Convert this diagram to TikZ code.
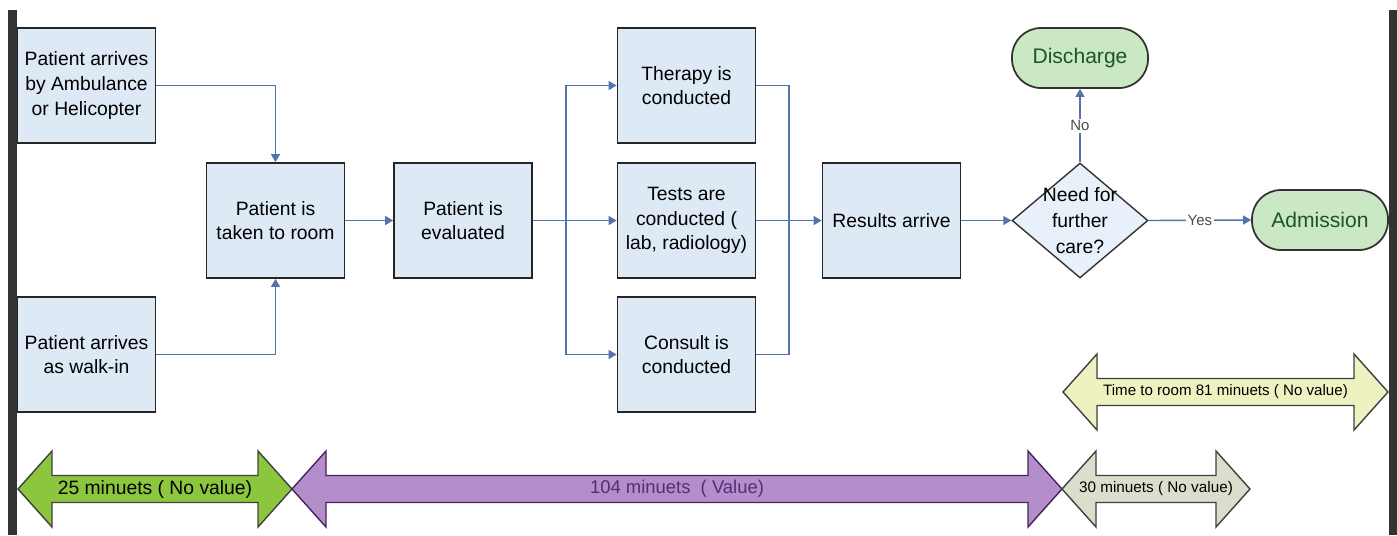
\documentclass[tikz,border=0pt]{standalone}
\usepackage{fontspec}
\setmainfont{Liberation Sans}
\usetikzlibrary{shapes.geometric, arrows.meta, positioning}
\definecolor{cajafondo}{RGB}{222,233,246}
\definecolor{conector}{RGB}{84,115,170}
\definecolor{verdeclaro}{RGB}{202,232,196}
\definecolor{verdetxt}{RGB}{30,85,40}
\definecolor{verde}{RGB}{140,198,63}
\definecolor{morado}{RGB}{180,142,202}
\definecolor{moradotxt}{RGB}{85,45,120}
\definecolor{amarillo}{RGB}{238,242,192}
\definecolor{gris}{RGB}{218,222,205}
\tikzset{
  caja/.style={rectangle, draw=black!85, fill=cajafondo, line width=1pt,
    minimum width=2.76cm, minimum height=2.3cm, align=center,
    font=\fontsize{11}{14}\selectfont, inner sep=1pt},
  decision/.style={diamond, draw=black!80, fill=cajafondo!70!white, line width=0.8pt,
    minimum width=2.72cm, minimum height=2.3cm, inner sep=-5pt, align=center,
    font=\fontsize{11}{15}\selectfont},
  terminal/.style={rectangle, rounded corners=0.58cm, draw=black!80, fill=verdeclaro,
    line width=1pt, minimum width=2.72cm, text=verdetxt,
    font=\fontsize{12}{14}\selectfont},
  flecha/.style={-{Triangle[length=1.6mm, width=1.8mm]}, line width=0.8pt, color=conector},
  linea/.style={line width=0.8pt, color=conector},
  etiq/.style={font=\fontsize{8.5}{10}\selectfont, color=black!70, fill=white, inner sep=1pt},
  barra/.style={draw=black!75, line width=0.8pt},
  barratxt/.style={inner sep=0pt}
}
% flecha doble de tiempo: x izq, x der, y centro, estilo
\newcommand{\tiempo}[4]{%
  \draw[barra, #4] (#1,#3) -- (#1+34,#3-38) -- (#1+34,#3-13.5) -- (#2-34,#3-13.5)
    -- (#2-34,#3-38) -- (#2,#3) -- (#2-34,#3+38) -- (#2-34,#3+13.5)
    -- (#1+34,#3+13.5) -- (#1+34,#3+38) -- cycle;}
\begin{document}
\begin{tikzpicture}[x=0.02cm, y=-0.02cm]
  \useasboundingbox (0,0) rectangle (1397,535);
  % bordes
  \fill[black!80] (8,10) rectangle (17,535);
  \fill[black!80] (1389,10) rectangle (1397,535);
  % proceso
  \node[caja] (amb) at (86.5,85.5) {Patient arrives\\by Ambulance\\or Helicopter};
  \node[caja] (walk) at (86.5,354.5) {Patient arrives\\as walk-in};
  \node[caja] (room) at (275.5,220.5) {Patient is\\taken to room};
  \node[caja] (eval) at (463,220.5) {Patient is\\evaluated};
  \node[caja] (ther) at (686.5,85.5) {Therapy is\\conducted};
  \node[caja] (tests) at (686.5,220.5) {Tests are\\conducted (\\lab, radiology)};
  \node[caja] (cons) at (686.5,354.5) {Consult is\\conducted};
  \node[caja] (res) at (891.5,220.5) {Results arrive};
  \node[decision] (need) at (1080,220.5) {Need for\\further\\care?};
  \node[terminal, minimum height=1.2cm] (dis) at (1080,58) {Discharge};
  \node[terminal, minimum height=1.2cm] (adm) at (1320,220) {Admission};
  \coordinate (rama) at (566,220.5);
  \coordinate (junta) at (789,220.5);
  \draw[flecha] (amb.east) -| (room.north);
  \draw[flecha] (walk.east) -| (room.south);
  \draw[flecha] (room) -- (eval);
  \draw[linea] (eval.east) -- (rama);
  \draw[flecha] (rama) |- (ther.west);
  \draw[flecha] (rama) -- (tests.west);
  \draw[flecha] (rama) |- (cons.west);
  \draw[linea] (ther.east) -| (junta);
  \draw[linea] (cons.east) -| (junta);
  \draw[flecha] (tests.east) -- (res.west);
  \draw[flecha] (res) -- (need);
  \draw[flecha] (need.north) -- node[etiq]{No} (dis.south);
  \draw[flecha] (need.east) -- node[etiq]{Yes} (adm.west);
  % tiempos
  \tiempo{18}{292}{489}{fill=verde}
  \tiempo{292}{1062}{489}{fill=morado, draw=moradotxt!80!black}
  \tiempo{1062}{1250}{489}{fill=gris}
  \tiempo{1063}{1388}{392}{fill=amarillo}
  \node[barratxt, font=\fontsize{11}{13}\selectfont] (t25) at (155,489) {25 minuets ( No value)};
  \node[barratxt, font=\fontsize{10.5}{13}\selectfont, text=moradotxt] (t104) at (677,489) {104 minuets \ ( Value)};
  \node[barratxt, font=\fontsize{8.7}{11}\selectfont] (t30) at (1156,489) {30 minuets ( No value)};
  \node[barratxt, font=\fontsize{8.6}{11}\selectfont] (t81) at (1225.5,392) {Time to room 81 minuets ( No value)};
\end{tikzpicture}
\end{document}
